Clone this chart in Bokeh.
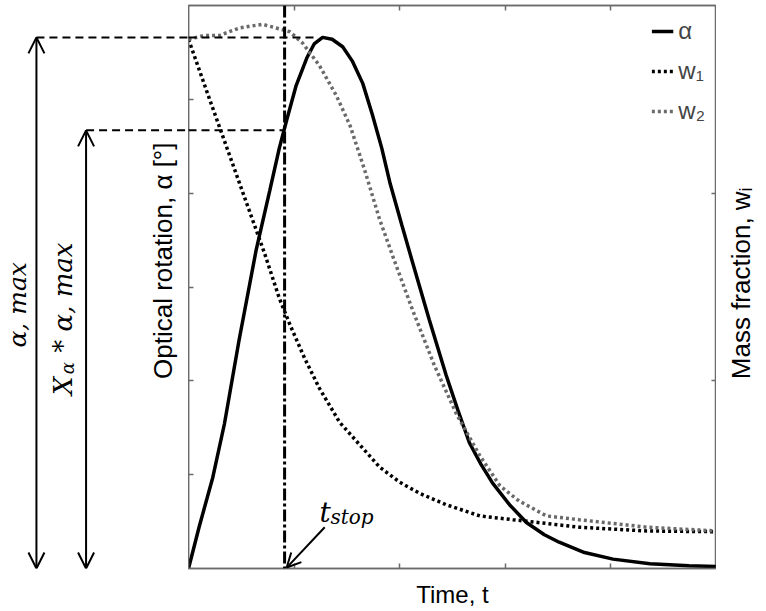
import math
from bokeh.plotting import figure
from bokeh.layouts import row
from bokeh.models import (Range1d, LinearAxis, FixedTicker, Arrow, OpenHead, Label,
                          Span, Legend, LegendItem)
from bokeh.embed import file_html
from bokeh.resources import INLINE

# ---------------- data ----------------
time_alpha = [0, 0.10, 0.23, 0.34, 0.48, 0.64, 0.77, 0.86, 0.93, 1.02, 1.12, 1.19, 1.27,
              1.36, 1.46, 1.55, 1.65, 1.74, 1.83, 1.91, 2.02, 2.12, 2.28, 2.44, 2.55,
              2.66, 2.77, 2.88, 3.04, 3.20, 3.37, 3.51, 3.75, 4.02, 4.37, 4.74, 5.00]
alpha = [0, 0.44, 0.97, 1.54, 2.44, 3.39, 4.03, 4.48, 4.78, 5.15, 5.44, 5.59, 5.66,
         5.64, 5.56, 5.41, 5.17, 4.84, 4.48, 4.10, 3.66, 3.27, 2.65, 2.06, 1.69,
         1.34, 1.11, 0.91, 0.68, 0.49, 0.36, 0.28, 0.17, 0.10, 0.05, 0.03, 0.02]

time_w1 = [0, 0.20, 0.39, 0.58, 0.72, 0.86, 0.96, 1.10, 1.24, 1.43, 1.62, 1.81, 2.00,
           2.19, 2.44, 2.76, 3.07, 3.39, 3.70, 4.34, 5.00]
w1 = [1.41, 1.25, 1.10, 0.95, 0.84, 0.72, 0.65, 0.56, 0.48, 0.39, 0.33, 0.27, 0.23,
      0.20, 0.17, 0.14, 0.13, 0.12, 0.11, 0.10, 0.098]

time_w2 = [0, 0.15, 0.29, 0.48, 0.70, 0.83, 0.96, 1.08, 1.24, 1.40, 1.53, 1.67, 1.81,
           1.95, 2.12, 2.33, 2.54, 2.76, 2.95, 3.13, 3.39, 3.70, 4.34, 5.00]
w2 = [1.41, 1.42, 1.42, 1.44, 1.45, 1.44, 1.43, 1.40, 1.34, 1.26, 1.18, 1.06, 0.93,
      0.82, 0.69, 0.54, 0.41, 0.30, 0.22, 0.18, 0.14, 0.13, 0.11, 0.10]

t_stop = 0.91
x_alpha_ratio = 0.825

x_ticks = [1, 2, 3, 4]
alpha_ticks = [1, 2, 3, 4, 5]
w_ticks = [0.5, 1.0]

legend_labels = ["α", "w₁", "w₂"]
x_label = "Time, t"
alpha_label = "Optical rotation, α [°]"
w_label = "Mass fraction, wᵢ"

alpha_max = max(alpha)
t_peak = time_alpha[alpha.index(alpha_max)]
alpha_stop = x_alpha_ratio * alpha_max

AXIS_COLOR = "#6b6b6b"
SERIF = "DejaVu Serif"
SANS = "Liberation Sans"

FRAME_W, FRAME_H = 528, 563
LEFT_W, RIGHT_W = 188, 44
PX_PER_T = FRAME_W / 5.0

y_rng = Range1d(0, 6)


def blank_panel(width, x_range):
    f = figure(frame_width=width, frame_height=FRAME_H, x_range=x_range, y_range=y_rng,
               x_axis_location=None, y_axis_location=None,
               output_backend="svg", toolbar_location=None,
               min_border_left=0, min_border_right=0, min_border_top=5, min_border_bottom=38)
    f.grid.visible = False
    f.outline_line_color = None
    f.background_fill_color = "white"
    f.border_fill_color = "white"
    return f


# ---------------- main plot ----------------
p = figure(frame_width=FRAME_W, frame_height=FRAME_H,
           x_range=Range1d(0, 5), y_range=y_rng,
           x_axis_location=None, y_axis_location=None,
           output_backend="svg", toolbar_location=None,
           min_border_left=0, min_border_right=0, min_border_top=5, min_border_bottom=0)
p.extra_y_ranges = {"w": Range1d(0, 1.5)}
p.grid.visible = False
p.outline_line_color = AXIS_COLOR
p.outline_line_width = 1.5
p.background_fill_color = "white"
p.border_fill_color = "white"


def make_axis(ticks, label=None, standoff=10, **kw):
    ax = LinearAxis(ticker=FixedTicker(ticks=ticks, minor_ticks=[]), axis_label=label, **kw)
    ax.major_tick_in = 5
    ax.major_tick_out = 0
    ax.minor_tick_in = 0
    ax.minor_tick_out = 0
    ax.major_label_text_font_size = "1px"
    ax.major_label_text_color = None
    ax.major_label_standoff = 0
    ax.axis_line_color = AXIS_COLOR
    ax.axis_line_width = 1.5
    ax.major_tick_line_color = AXIS_COLOR
    ax.major_tick_line_width = 1.5
    ax.axis_label_text_font = SANS
    ax.axis_label_text_font_size = "24px"
    ax.axis_label_text_font_style = "normal"
    ax.axis_label_text_color = "black"
    ax.axis_label_standoff = standoff
    return ax


p.add_layout(make_axis(x_ticks, x_label, 12), "below")
p.add_layout(make_axis(x_ticks), "above")
p.add_layout(make_axis(alpha_ticks), "left")
p.add_layout(make_axis(w_ticks, y_range_name="w"), "right")

r_a = p.line(time_alpha, alpha, line_color="black", line_width=3.5)
r_w1 = p.line(time_w1, w1, y_range_name="w", line_color="black", line_width=3.5,
              line_dash="3 3")
r_w2 = p.line(time_w2, w2, y_range_name="w", line_color="#6a6a6a", line_width=3.5,
              line_dash="3 3")

legend = Legend(items=[LegendItem(label=legend_labels[0], renderers=[r_a]),
                       LegendItem(label=legend_labels[1], renderers=[r_w1]),
                       LegendItem(label=legend_labels[2], renderers=[r_w2])],
                location="top_right", margin=11, padding=9, spacing=10,
                glyph_width=22, glyph_height=30, label_standoff=5,
                label_text_font=SANS, label_text_font_size="24px",
                border_line_color=None, background_fill_alpha=0)
p.add_layout(legend)

p.add_layout(Span(location=t_stop, dimension="height", line_color="black",
                  line_width=3, line_dash="12 3 3 3"))
p.add_layout(Arrow(x_start=0, y_start=alpha_max, x_end=t_peak - 0.05, y_end=alpha_max,
                   start=None, end=None, line_color="black", line_width=2, line_dash="8 5"))
p.add_layout(Arrow(x_start=0, y_start=alpha_stop, x_end=t_stop, y_end=alpha_stop,
                   start=None, end=None, line_color="black", line_width=2, line_dash="8 5"))
p.add_layout(Arrow(x_start=1.29, y_start=0.44, x_end=t_stop + 0.02, y_end=0.01,
                   end=OpenHead(size=14, line_width=2, line_color="black"),
                   line_color="black", line_width=2))

lab_kw = dict(text_font=SERIF, text_font_style="italic", text_color="black")
p.add_layout(Label(x=1.24, y=0.60, text="t", text_align="left", text_baseline="alphabetic",
                   text_font_size="28px", **lab_kw))
p.add_layout(Label(x=1.345, y=0.55, text="stop", text_align="left",
                   text_baseline="alphabetic", text_font_size="20px", **lab_kw))

# ---------------- left annotation panel ----------------
left = blank_panel(LEFT_W, Range1d(-LEFT_W / PX_PER_T, 0))
x_arrow_max = -1.44
x_arrow_stop = -0.97

left.add_layout(Arrow(x_start=x_arrow_max, y_start=alpha_max, x_end=0, y_end=alpha_max,
                      start=None, end=None, line_color="black", line_width=2, line_dash="8 5"))
left.add_layout(Arrow(x_start=x_arrow_stop, y_start=alpha_stop, x_end=0, y_end=alpha_stop,
                      start=None, end=None, line_color="black", line_width=2, line_dash="8 5"))
for xa, ya in [(x_arrow_max, alpha_max), (x_arrow_stop, alpha_stop)]:
    left.add_layout(Arrow(x_start=xa, y_start=ya, x_end=xa, y_end=0,
                          start=OpenHead(size=16, line_width=2, line_color="black"),
                          end=OpenHead(size=16, line_width=2, line_color="black"),
                          line_color="black", line_width=2))

left.add_layout(Label(x=-1.62, y=2.81, text="α, max", angle=math.pi / 2,
                      text_align="center", text_baseline="middle",
                      text_font_size="25px", **lab_kw))
left.add_layout(Label(x=-1.193, y=1.85, text="X", angle=math.pi / 2,
                      text_align="left", text_baseline="alphabetic",
                      text_font_size="26px", **lab_kw))
left.add_layout(Label(x=-1.146, y=2.07, text="α", angle=math.pi / 2,
                      text_align="left", text_baseline="alphabetic",
                      text_font_size="18px", **lab_kw))
left.add_layout(Label(x=-1.193, y=2.30, text=" * α, max", angle=math.pi / 2,
                      text_align="left", text_baseline="alphabetic",
                      text_font_size="26px", **lab_kw))
left.add_layout(Label(x=-0.237, y=3.28, text=alpha_label, angle=math.pi / 2,
                      text_align="center", text_baseline="middle",
                      text_font=SANS, text_font_size="26px", text_color="black"))

# ---------------- right label panel ----------------
right = blank_panel(RIGHT_W, Range1d(0, 1))
right.add_layout(Label(x=0.55, y=3.04, text=w_label, angle=math.pi / 2,
                       text_align="center", text_baseline="middle",
                       text_font=SANS, text_font_size="26px", text_color="black"))

layout = row(left, p, right)
open("out.html", "w").write(file_html(layout, INLINE))
